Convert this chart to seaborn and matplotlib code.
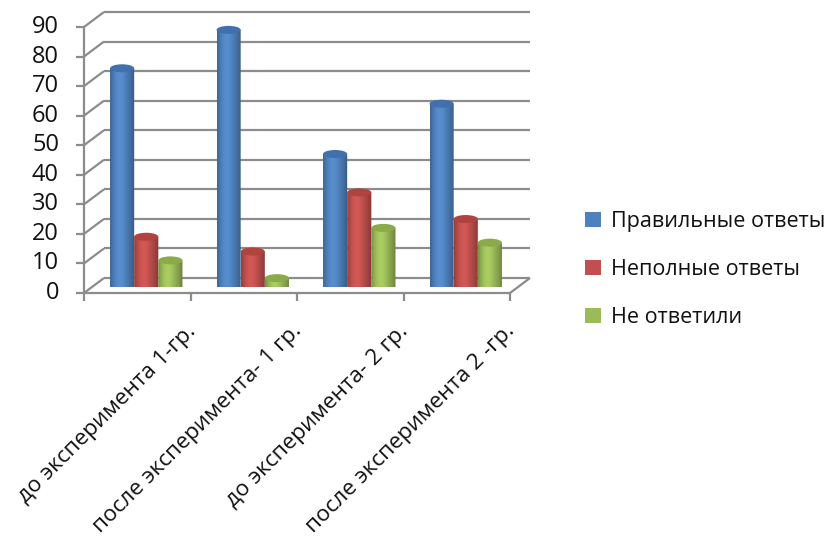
import numpy as np
import pandas as pd
import matplotlib
matplotlib.use("Agg")
import matplotlib.pyplot as plt
from matplotlib.patches import Ellipse, PathPatch, Rectangle
from matplotlib.path import Path
from matplotlib.colors import to_rgb
import seaborn as sns

# --- data -------------------------------------------------------------
categories = [
    "до эксперимента 1-гр.",
    "после эксперимента- 1 гр.",
    "до эксперимента- 2 гр.",
    "после эксперимента 2 -гр.",
]
series_names = ["Правильные ответы", "Неполные ответы", "Не ответили"]
correct = [74, 87, 45, 62]
partial = [17, 12, 32, 23]
no_answer = [9, 3, 20, 15]
y_ticks = [0, 10, 20, 30, 40, 50, 60, 70, 80, 90]

colors = ["#4F81BD", "#C0504D", "#9BBB59"]
top_colors = ["#4170AC", "#B0433F", "#8BAA4A"]

df = pd.DataFrame({
    "group": categories * 3,
    "series": [s for s in series_names for _ in categories],
    "value": correct + partial + no_answer,
})

sns.set_theme(style="white")
plt.rcParams["font.family"] = ["Open Sans", "DejaVu Sans"]

W, H = 833, 538
fig = plt.figure(figsize=(W / 100, H / 100), dpi=100)
fig.patch.set_facecolor("white")

# plotting box: the bars stand on the middle depth plane of the 3-D box
ax_left, ax_bottom, ax_w, ax_h = 93, 287, 426, 266
ax = fig.add_axes([ax_left / W, (H - ax_bottom) / H, ax_w / W, ax_h / H])

sns.barplot(data=df, x="group", y="value", hue="series", palette=colors,
            width=0.68, saturation=1, gap=0, ax=ax, legend=False,
            edgecolor="none", linewidth=0)

ax.set_xlim(-0.5, 3.5)
ax.set_ylim(0, 90)
for sp in ax.spines.values():
    sp.set_visible(False)
ax.set_xticks([])
ax.set_yticks([])
ax.set_xlabel("")
ax.set_ylabel("")
ax.patch.set_alpha(0)

# pixel -> data unit conversions
px_x = ax_w / 4.0
px_y = ax_h / 90.0

def front(x, y):
    return x - 9 / px_x, y - 6 / px_y

def back(x, y):
    return x + 11 / px_x, y + 9 / px_y

grid_kw = dict(color="#8c8c8c", lw=1.6, clip_on=False, zorder=0,
               solid_capstyle="butt")
text_color = "#111111"

# back wall gridlines and left wall diagonals
for v in y_ticks:
    (bx0, by), (bx1, _) = back(-0.5, v), back(3.5, v)
    ax.plot([bx0, bx1], [by, by], **grid_kw)
    fx, fy = front(-0.5, v)
    ax.plot([fx, bx0], [fy, by], **grid_kw)
    # tick mark on the value axis
    ax.plot([fx - 8 / px_x, fx], [fy, fy], **grid_kw)
    ax.text(fx - 25 / px_x, fy, str(v), ha="right", va="center",
            fontsize=17, color=text_color, clip_on=False)

# value axis line
f0, f90 = front(-0.5, 0), front(-0.5, 90)
ax.plot([f0[0], f90[0]], [f0[1], f90[1]], **grid_kw)

# floor front edge and right corner
fl, fr = front(-0.5, 0), front(3.5, 0)
ax.plot([fl[0], fr[0]], [fl[1], fr[1]], **grid_kw)
br = back(3.5, 0)
ax.plot([fr[0], br[0]], [fr[1], br[1]], **grid_kw)

# category dividers
for k in range(5):
    tx, ty = front(k - 0.5, 0)
    ax.plot([tx, tx], [ty, ty - 8 / px_y], **grid_kw)

# category labels, rotated
for i, name in enumerate(categories):
    ax.text(i + 50 / px_x, -45 / px_y, name, rotation=45,
            rotation_mode="anchor", ha="right", va="baseline",
            fontsize=16.2, color=text_color, clip_on=False)

# cylinder shading for every bar
ell_h = 8 / px_y
u = np.linspace(0, 1, 64)
shade = (0.80 + 0.30 * np.exp(-((u - 0.40) / 0.33) ** 2)
         - 0.10 * np.exp(-((u - 1.0) / 0.12) ** 2)
         - 0.08 * np.exp(-(u / 0.10) ** 2))
bars = list(ax.patches)
for idx, p in enumerate(bars):
    s = idx // len(categories)
    x0, w, h = p.get_x(), p.get_width(), p.get_height()
    cx = x0 + w / 2
    base = np.array(to_rgb(colors[s]))
    img = np.clip(base[None, None, :] * shade[None, :, None], 0, 1)
    t = np.linspace(np.pi, 2 * np.pi, 40)
    verts = [(x0, h), (x0, 0)]
    verts += list(zip(cx + (w / 2) * np.cos(t), (ell_h / 2) * np.sin(t)))
    verts += [(x0 + w, 0), (x0 + w, h), (x0, h)]
    codes = [Path.MOVETO] + [Path.LINETO] * (len(verts) - 2) + [Path.CLOSEPOLY]
    clip = PathPatch(Path(verts, codes), facecolor="none", edgecolor="none")
    ax.add_patch(clip)
    clip.set_visible(False)
    im = ax.imshow(img, extent=[x0, x0 + w, -ell_h / 2, h], aspect="auto",
                   interpolation="bilinear", zorder=2 + s * 0.01)
    im.set_clip_path(clip)
    im.set_clip_box(None)
    top = Ellipse((cx, h), w, ell_h, facecolor=top_colors[s],
                  edgecolor="none", zorder=2.5 + s * 0.01, clip_on=False)
    ax.add_patch(top)
    p.set_visible(False)

ax.set_xlim(-0.5, 3.5)
ax.set_ylim(0, 90)

# legend
handles = [Rectangle((0, 0), 1, 1, facecolor=c, edgecolor="none") for c in colors]
fig.legend(handles, series_names, loc="center left",
           bbox_to_anchor=(585 / W, (H - 269.5) / H), frameon=False,
           fontsize=15.5, handlelength=0.75, handleheight=0.75,
           handletextpad=0.45, labelspacing=1.25, borderpad=0,
           borderaxespad=0, labelcolor=text_color)

fig.savefig("out.png", dpi=100, facecolor="white")
